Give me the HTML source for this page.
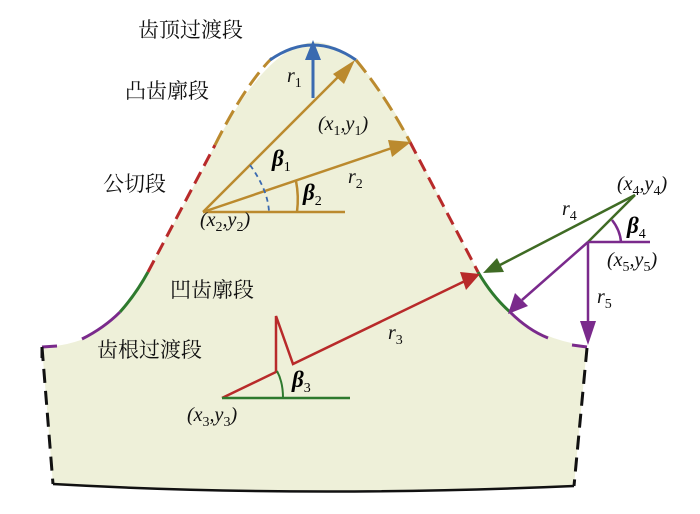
<!DOCTYPE html>
<html><head><meta charset="utf-8"><style>
html,body{margin:0;padding:0;background:#fff;width:700px;height:514px;overflow:hidden}
svg text{font-family:"Liberation Serif","Noto Serif CJK SC",serif}
.cn{font-family:"Liberation Serif","Noto Serif CJK SC",serif;font-size:21px;fill:#111}
.it{font-style:italic;font-size:20px;fill:#111}
.sub{font-size:14px;font-style:normal}
.b{font-weight:bold;font-style:italic;font-size:23px}
</style></head><body>
<svg width="700" height="514" viewBox="0 0 700 514" xmlns="http://www.w3.org/2000/svg">
<path d="M42,347 Q70,346 90,336 Q125,315 150,268 L205,165 Q262,48 313,42 Q360,42 410,140 L478,272 Q510,335 587,346 L574,486 Q300,498 53,484 Z" fill="#eef0d9"/>
<g fill="none" stroke-width="3">
<path d="M42,347 L57,346" stroke="#7a2a8c"/>
<path d="M82,339 Q104,328 120,312" stroke="#7a2a8c"/>
<path d="M120,312 Q136,294 148,272" stroke="#2e7a2e"/>
<path d="M148,272 L215,145" stroke="#b82a2a" stroke-dasharray="13,7"/>
<path d="M215,145 Q245,85 272,58" stroke="#bb8a2e" stroke-dasharray="16,7"/>
<path d="M270,60 Q313,30 356,60" stroke="#3a6ab0"/>
<path d="M356,60 Q385,95 410,142" stroke="#bb8a2e" stroke-dasharray="16,7"/>
<path d="M410,142 L478,272" stroke="#b82a2a" stroke-dasharray="13,7"/>
<path d="M478,272 Q492,296 510,312" stroke="#2e7a2e"/>
<path d="M510,312 Q528,330 548,338" stroke="#7a2a8c"/>
<path d="M572,345 L587,347" stroke="#7a2a8c"/>
<path d="M587,348 L574,486" stroke="#111" stroke-dasharray="14,8"/>
<path d="M574,486 Q300,498 53,484" stroke="#111" stroke-width="2.5"/>
<path d="M42,347 L53,484" stroke="#111" stroke-dasharray="14,8"/>
<path d="M42,347 L42,358" stroke="#111"/>
</g>
<line x1="313" y1="98" x2="313" y2="58" stroke="#3a6ab0" stroke-width="3"/>
<path d="M305,60 L313,40 L321,60 Z" fill="#3a6ab0"/>
<g stroke="#bb8a2e" stroke-width="2.5" fill="none">
<line x1="203" y1="212" x2="340" y2="75"/>
<line x1="203" y1="212" x2="392" y2="148"/>
<line x1="203" y1="212" x2="345" y2="212"/>
<path d="M296,181 Q299,196 297,212"/>
</g>
<path d="M333,74 L355,60 L344,84 Z" fill="#bb8a2e"/>
<path d="M388,140 L411,142 L392,157 Z" fill="#bb8a2e"/>
<path d="M250,165 Q268,190 269,212" fill="none" stroke="#3a6ab0" stroke-width="1.8" stroke-dasharray="5,4"/>
<g stroke="#b82a2a" stroke-width="2.5" fill="none">
<polyline points="222,398 276,372 276,316 293,364 465,281"/>
</g>
<path d="M460,272 L480,274 L466,290 Z" fill="#b82a2a"/>
<line x1="222" y1="398" x2="350" y2="398" stroke="#2e7a2e" stroke-width="2.5"/>
<path d="M277,371 Q283,382 283,398" fill="none" stroke="#2e7a2e" stroke-width="2"/>
<line x1="635" y1="195" x2="500" y2="265" stroke="#3f6b24" stroke-width="2.5"/>
<path d="M497,258 L483,273 L504,272 Z" fill="#3f6b24"/>
<line x1="635" y1="195" x2="588" y2="242" stroke="#3f6b24" stroke-width="2.5"/>
<g stroke="#7a2a8c" stroke-width="2.5" fill="none">
<line x1="588" y1="242" x2="650" y2="242"/>
<line x1="588" y1="242" x2="522" y2="300"/>
<line x1="588" y1="242" x2="588" y2="322"/>
<path d="M612,220 Q620,230 621,242"/>
</g>
<path d="M515,293 L508,314 L528,306 Z" fill="#7a2a8c"/>
<path d="M580,321 L588,345 L596,321 Z" fill="#7a2a8c"/>
<text class="cn" x="138" y="37">齿顶过渡段</text>
<text class="cn" x="125" y="98">凸齿廓段</text>
<text class="cn" x="103" y="191">公切段</text>
<text class="cn" x="170" y="297">凹齿廓段</text>
<text class="cn" x="97" y="357">齿根过渡段</text>
<text class="it" x="287" y="82">r<tspan class="sub" dy="5">1</tspan></text>
<text class="it" x="318" y="130">(x<tspan class="sub" dy="5">1</tspan><tspan dy="-5">,y</tspan><tspan class="sub" dy="5">1</tspan><tspan dy="-5">)</tspan></text>
<text class="b" x="272" y="166">β<tspan class="sub" dy="5" font-weight="normal">1</tspan></text>
<text class="it" x="348" y="183">r<tspan class="sub" dy="5">2</tspan></text>
<text class="b" x="303" y="200">β<tspan class="sub" dy="5" font-weight="normal">2</tspan></text>
<text class="it" x="200" y="226">(x<tspan class="sub" dy="5">2</tspan><tspan dy="-5">,y</tspan><tspan class="sub" dy="5">2</tspan><tspan dy="-5">)</tspan></text>
<text class="it" x="388" y="339">r<tspan class="sub" dy="5">3</tspan></text>
<text class="b" x="292" y="387">β<tspan class="sub" dy="5" font-weight="normal">3</tspan></text>
<text class="it" x="187" y="421">(x<tspan class="sub" dy="5">3</tspan><tspan dy="-5">,y</tspan><tspan class="sub" dy="5">3</tspan><tspan dy="-5">)</tspan></text>
<text class="it" x="617" y="190">(x<tspan class="sub" dy="5">4</tspan><tspan dy="-5">,y</tspan><tspan class="sub" dy="5">4</tspan><tspan dy="-5">)</tspan></text>
<text class="it" x="562" y="215">r<tspan class="sub" dy="5">4</tspan></text>
<text class="b" x="627" y="233">β<tspan class="sub" dy="5" font-weight="normal">4</tspan></text>
<text class="it" x="607" y="266">(x<tspan class="sub" dy="5">5</tspan><tspan dy="-5">,y</tspan><tspan class="sub" dy="5">5</tspan><tspan dy="-5">)</tspan></text>
<text class="it" x="597" y="303">r<tspan class="sub" dy="5">5</tspan></text>
</svg>
</body></html>
